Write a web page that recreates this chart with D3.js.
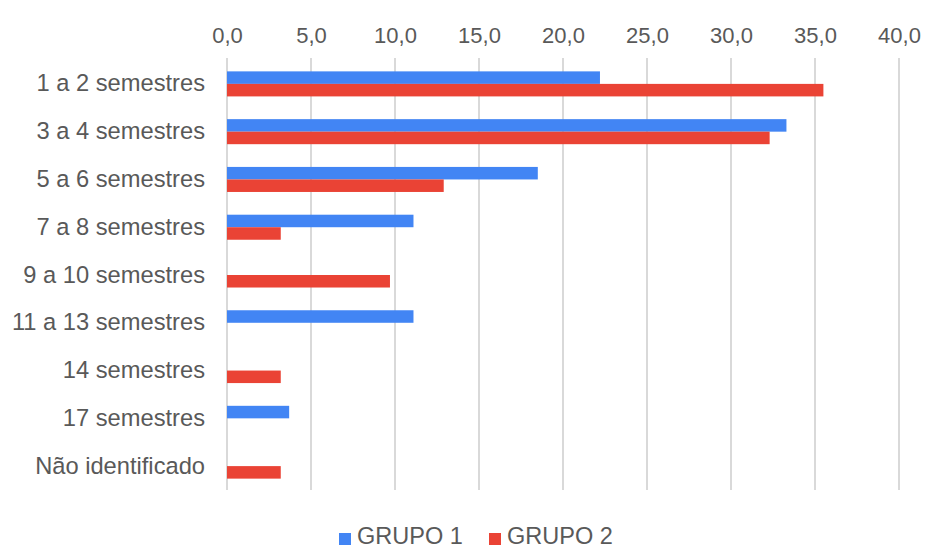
<!DOCTYPE html>
<html>
<head>
<meta charset="utf-8">
<script src="https://cdn.jsdelivr.net/npm/d3@7"></script>
<style>
  html, body { margin: 0; padding: 0; background: #fff; }
  svg { display: block; font-family: "Liberation Sans", Arial, sans-serif; }
</style>
</head>
<body>
<svg id="chart" width="926" height="548"></svg>
<script>
// Duration categories (semesters) and the share of each group, in %
const categories = [
  "1 a 2 semestres", "3 a 4 semestres", "5 a 6 semestres", "7 a 8 semestres",
  "9 a 10 semestres", "11 a 13 semestres", "14 semestres", "17 semestres",
  "Não identificado"
];
const grupo1 = [22.2, 33.3, 18.5, 11.1, 0, 11.1, 0, 3.7, 0];
const grupo2 = [35.5, 32.3, 12.9, 3.2, 9.7, 0, 3.2, 0, 3.2];
const seriesNames = ["GRUPO 1", "GRUPO 2"];
const seriesColors = ["#4285F4", "#EA4335"];
const xTicks = [0, 5, 10, 15, 20, 25, 30, 35, 40];

const svg = d3.select("#chart");
const margin = { top: 60, left: 227, right: 27, bottom: 58 };
const W = 926, H = 548;
const textColor = "#595959";
const font = "'Liberation Sans', Arial, sans-serif";

const x = d3.scaleLinear().domain([0, 40]).range([margin.left, W - margin.right]);
const y = d3.scaleBand().domain(categories).range([margin.top, H - margin.bottom])
  .paddingInner(0.476).paddingOuter(0.238);
const ySub = d3.scaleBand().domain(seriesNames).range([0, y.bandwidth()]);

const fmt = v => d3.format(".1f")(v).replace(".", ",");

// vertical gridlines
svg.append("g")
  .selectAll("line")
  .data(xTicks)
  .join("line")
  .attr("x1", d => x(d)).attr("x2", d => x(d))
  .attr("y1", margin.top - 2).attr("y2", H - margin.bottom)
  .attr("stroke", "#d9d9d9").attr("stroke-width", 2);

// top axis labels
const xAxis = d3.axisTop(x).tickValues(xTicks).tickFormat(fmt).tickSize(0).tickPadding(0);
const gx = svg.append("g").attr("transform", "translate(0,43)").call(xAxis);
gx.select(".domain").remove();
gx.selectAll("text").attr("fill", textColor).style("font-size", "22px")
  .style("font-family", font);

// category axis labels
const yAxis = d3.axisLeft(y).tickSize(0).tickPadding(22);
const gy = svg.append("g").attr("transform", `translate(${margin.left},0)`).call(yAxis);
gy.select(".domain").remove();
gy.selectAll("text").attr("fill", textColor).style("font-size", "23.7px")
  .style("font-family", font);

// bars
const seriesData = [grupo1, grupo2];
seriesData.forEach((vals, si) => {
  svg.append("g")
    .selectAll("rect")
    .data(vals.map((v, i) => ({ cat: categories[i], v })).filter(d => d.v > 0))
    .join("rect")
    .attr("x", x(0))
    .attr("y", d => y(d.cat) + ySub(seriesNames[si]))
    .attr("width", d => x(d.v) - x(0))
    .attr("height", ySub.bandwidth())
    .attr("fill", seriesColors[si]);
});

// legend
const legend = svg.append("g");
const legendItems = [{ name: seriesNames[0], x: 339 }, { name: seriesNames[1], x: 489 }];
legendItems.forEach((it, i) => {
  legend.append("rect").attr("x", it.x).attr("y", 533).attr("width", 12).attr("height", 12)
    .attr("fill", seriesColors[i]);
  legend.append("text").attr("x", it.x + 18).attr("y", 544)
    .attr("fill", textColor).style("font-size", "23.5px").style("font-family", font)
    .text(it.name);
});
</script>
</body>
</html>
